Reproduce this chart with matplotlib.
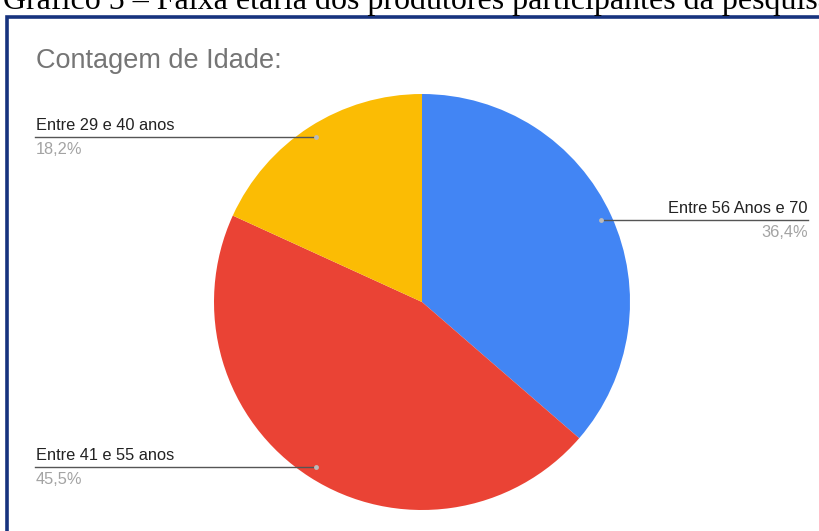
import numpy as np
import matplotlib.pyplot as plt
from matplotlib.patches import Rectangle

caption = "Gráfico 5 – Faixa etária dos produtores participantes da pesquisa"
chart_title = "Contagem de Idade:"
labels = ["Entre 56 Anos e 70", "Entre 41 e 55 anos", "Entre 29 e 40 anos"]
counts = [4, 5, 2]
pct_text = ["36,4%", "45,5%", "18,2%"]
colors = ["#4285F4", "#EA4335", "#FBBC04"]

W, H = 820, 531
fig = plt.figure(figsize=(W / 100, H / 100), dpi=100)
ax = fig.add_axes([0, 0, 1, 1])

cx, cy, R = 422, H - 302, 208
ax.pie(counts, colors=colors, startangle=90, counterclock=False,
       radius=R, center=(cx, cy), frame=True,
       wedgeprops=dict(linewidth=0))
ax.set_xlim(0, W)
ax.set_ylim(0, H)
ax.set_aspect("equal")
ax.axis("off")

# outer frame of the chart box
ax.add_patch(Rectangle((7, -20), W, H - 17 + 20, fill=False,
                       edgecolor="#17337E", linewidth=2.6))

# caption above the box (runs past the top and right edges)
fig.text(3, H - 9, caption, transform=None, fontsize=23,
         family="Liberation Serif", color="black", va="baseline")

ax.text(36, H - 61, chart_title, fontsize=19.5, color="#757575",
        family="Liberation Sans", va="center", ha="left")

# leader lines and labels at the middle of each slice
total = sum(counts)
edges = np.cumsum([0] + counts) / total * 360
sans = "Liberation Sans"
for lab, pct, a0, a1 in zip(labels, pct_text, edges[:-1], edges[1:]):
    mid = np.deg2rad((a0 + a1) / 2)
    px = cx + 0.945 * R * np.sin(mid)
    py = cy + 0.945 * R * np.cos(mid)
    if px > cx:
        x_end, ha, tx = 808, "right", 808
    else:
        x_end, ha, tx = 35, "left", 36
    ax.plot([px, x_end], [py, py], color="#555555", lw=1.0)
    ax.plot(px, py, "o", ms=3.5, color="#BBBBBB", mec="none")
    ax.text(tx, py + 4, lab, fontsize=11.8,
            family=sans, color="#222222", ha=ha, va="bottom")
    ax.text(tx, py - 5, pct, fontsize=11.8,
            family=sans, color="#A3A3A3", ha=ha, va="top")

fig.savefig("out.png", dpi=100, facecolor="white")
